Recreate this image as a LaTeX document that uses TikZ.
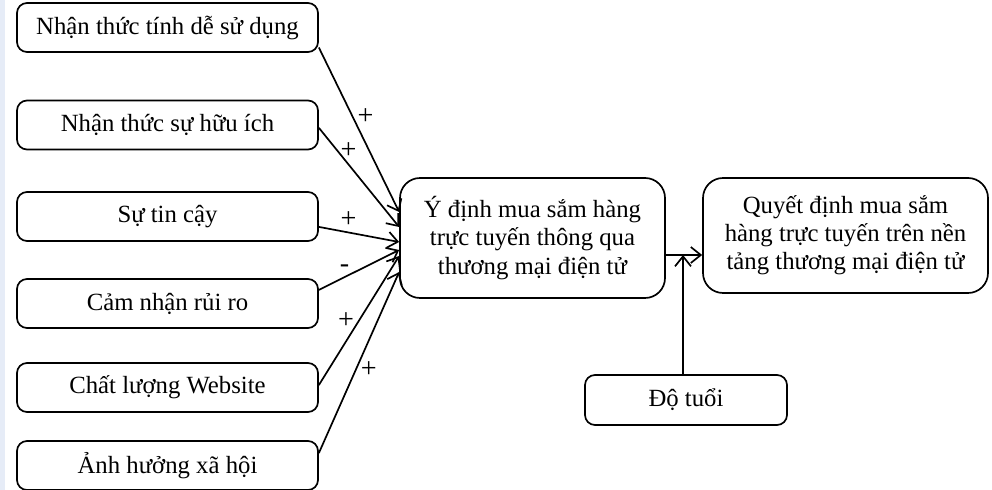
\documentclass[tikz,border=0pt]{standalone}
\usepackage{fontspec}
\setmainfont{Liberation Serif}
\usetikzlibrary{positioning,arrows.meta,calc}
\definecolor{edgeblue}{HTML}{E6ECF7}

\begin{document}
\begin{tikzpicture}[
      line width=1.2pt,
      factor/.style={draw,rounded corners=0.25cm,minimum width=7.525cm,minimum height=1.225cm,font=\fontsize{17.6}{20}\selectfont},
      bigbox/.style={draw,rounded corners=0.5cm,align=center,font=\fontsize{17.6}{20}\selectfont},
      sign/.style={font=\fontsize{20}{22}\selectfont,inner sep=1pt},
      arr/.style={-{Straight Barb[length=2.5mm,width=4mm]}}]
    \useasboundingbox (0,0) rectangle (24.8,-12.25);
    \fill[edgeblue] (0,0) rectangle (0.125,-12.25);

    \node[factor] (ease) at (4.1875,-0.6875) {Nhận thức tính dễ sử dụng};
    \node[factor] (use)  at (4.1875,-3.125) {Nhận thức sự hữu ích};
    \node[factor] (trust) at (4.1875,-5.4125) {Sự tin cậy};
    \node[factor] (risk) at (4.1875,-7.5875) {Cảm nhận rủi ro};
    \node[factor] (web)  at (4.1875,-9.6875) {Chất lượng Website};
    \node[factor] (soc)  at (4.1875,-11.6375) {Ảnh hưởng xã hội};

    \node[bigbox,minimum width=6.625cm,minimum height=3cm] (intent) at (13.3125,-5.95)
      {Ý định mua sắm hàng\\trực tuyến thông qua\\thương mại điện tử};
    \node[bigbox,minimum width=7.125cm,minimum height=2.875cm] (decide) at (21.1375,-5.8875)
      {Quyết định mua sắm\\hàng trực tuyến trên nền\\tảng thương mại điện tử};
    \node[factor,minimum width=5.05cm,minimum height=1.25cm] (age) at (17.15,-10) {Độ tuổi};
    \coordinate (join) at (17.075,-6.375);

    \draw[arr] ([yshift=-0.5cm]ease.east) -- node[sign,pos=0.42,right=2pt]{+} ([yshift=0.65cm]intent.west);
    \draw[arr] ([yshift=-0.07cm]use.east) -- node[sign,pos=0.37,above=3pt]{+} ([yshift=0.275cm]intent.west);
    \draw[arr] ([yshift=-0.26cm]trust.east) -- node[sign,pos=0.37,above=2pt]{+} ([yshift=-0.1cm]intent.west);
    \draw[arr] ([yshift=0.34cm]risk.east) -- node[sign,pos=0.32,above=2pt]{-} ([yshift=-0.3cm]intent.west);
    \draw[arr] ([yshift=0.06cm]web.east) -- node[sign,pos=0.5,left=2pt]{+} ([yshift=-0.45cm]intent.west);
    \draw[arr] ([yshift=0.31cm]soc.east) -- node[sign,pos=0.46,right=2pt]{+} ([yshift=-0.85cm]intent.west);

    \draw[arr] (intent.east |- join) -- (decide.west |- join);
    \draw[arr] (age.north -| join) -- (join);
  \end{tikzpicture}
\end{document}
